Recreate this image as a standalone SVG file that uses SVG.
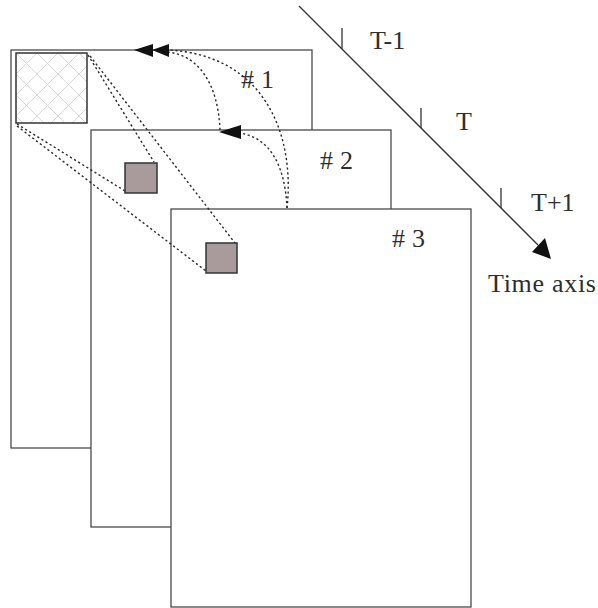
<svg xmlns="http://www.w3.org/2000/svg" width="598" height="608" viewBox="0 0 598 608">
  <style>
    .frame { fill: #ffffff; stroke: #4a4a4a; stroke-width: 1.3; }
    .block { fill: #a99b9b; stroke: #333333; stroke-width: 1.5; }
    .label { font-family: "Liberation Serif", "Times New Roman", serif; font-size: 26px; fill: #2e2e2e; }
    .dotted { fill: none; stroke: #2a2a2a; stroke-width: 1.4; stroke-dasharray: 2.2 2.6; }
    .head { fill: #111111; }
    .axis { stroke: #333333; stroke-width: 1.3; fill: none; }
  </style>
  <defs>
    <pattern id="crosshatch" patternUnits="userSpaceOnUse" x="16" y="53" width="21" height="21">
      <path d="M0,0 L21,21 M21,0 L0,21" stroke="#d2d2d2" stroke-width="0.9" fill="none"/>
    </pattern>
  </defs>

  <rect width="598" height="608" fill="#ffffff"/>

  <!-- frame #1 (time T-1) -->
  <g id="frame1">
    <rect class="frame" x="11" y="50" width="301" height="398"/>
    <rect x="16" y="53" width="71" height="70" fill="url(#crosshatch)" stroke="#333333" stroke-width="1.5"/>
    <text class="label" x="241" y="88">#</text>
    <text class="label" x="261" y="88">1</text>
  </g>

  <!-- frame #2 (time T) -->
  <g id="frame2">
    <rect class="frame" x="91" y="130" width="300" height="397"/>
    <rect class="block" x="125" y="163" width="32" height="30"/>
    <text class="label" x="320" y="169">#</text>
    <text class="label" x="340" y="169">2</text>
  </g>

  <!-- frame #3 (time T+1) -->
  <g id="frame3">
    <rect class="frame" x="171" y="209" width="300" height="398"/>
    <rect class="block" x="206" y="243" width="31" height="30"/>
    <text class="label" x="392" y="247">#</text>
    <text class="label" x="412" y="247">3</text>
  </g>

  <!-- time axis -->
  <g id="time-axis">
    <line class="axis" x1="299" y1="6" x2="538" y2="245"/>
    <polygon class="head" points="551,259 532,252 545,238"/>
    <line class="axis" x1="342" y1="28" x2="342" y2="49"/>
    <line class="axis" x1="421" y1="108" x2="421" y2="128"/>
    <line class="axis" x1="501" y1="188" x2="501" y2="208"/>
    <text class="label" x="370" y="49">T-1</text>
    <text class="label" x="456" y="130">T</text>
    <text class="label" x="531" y="211">T+1</text>
    <text class="label" x="488" y="292" letter-spacing="0.7">Time axis</text>
  </g>

  <!-- dotted connectors -->
  <g id="connectors">
    <line class="dotted" x1="88" y1="55" x2="154" y2="162"/>
    <line class="dotted" x1="90" y1="56" x2="235" y2="243"/>
    <line class="dotted" x1="17" y1="124" x2="125" y2="191"/>
    <line class="dotted" x1="17" y1="126" x2="206" y2="271"/>
    <path class="dotted" d="M220,130 C218,85 200,56 168,52"/>
    <path class="dotted" d="M287,208 C295,135 265,55 168,50"/>
    <path class="dotted" d="M287,208 C285,165 270,138 240,133"/>
    <polygon class="head" points="134,50 153,44 153,57"/>
    <polygon class="head" points="152,50 169,44 169,57"/>
    <polygon class="head" points="219,132 241,125 241,139"/>
  </g>
</svg>
